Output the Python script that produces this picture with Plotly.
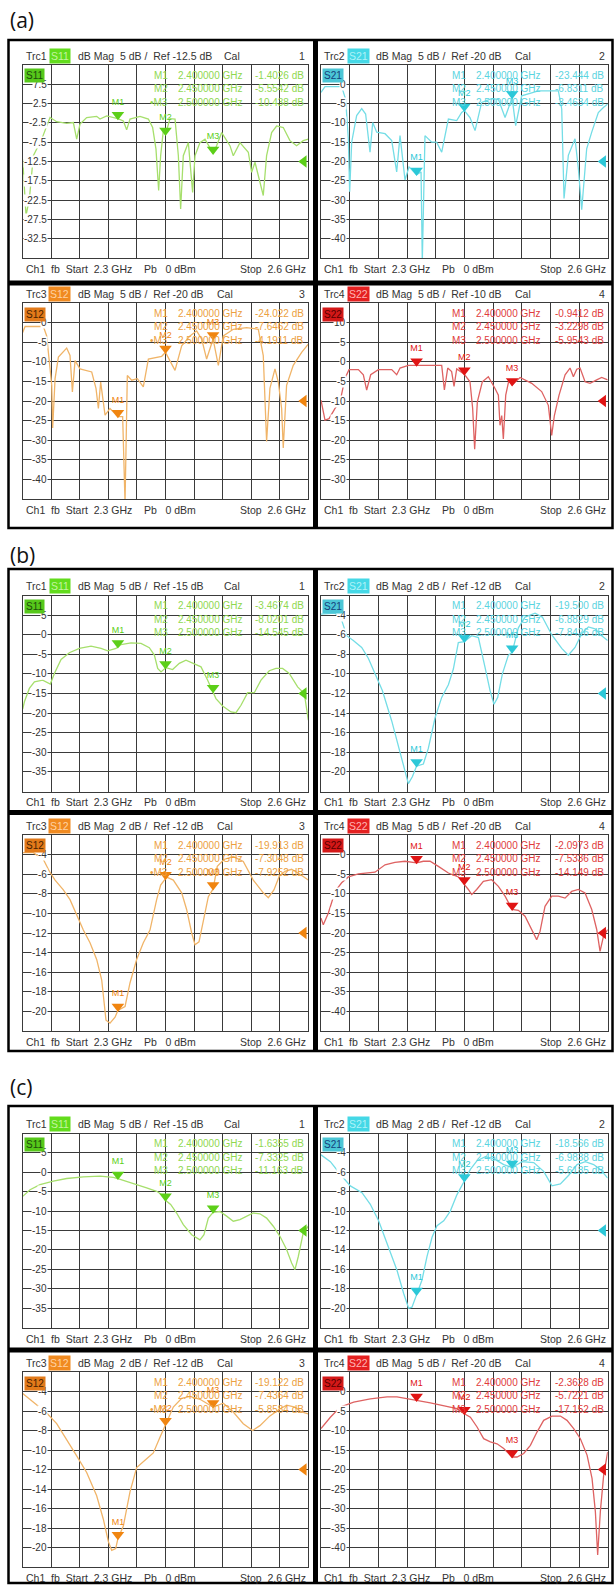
import numpy as np
import plotly.graph_objects as go

W, H = 614, 1585
F_START, F_STOP = 2.3, 2.6
MARKER_F = [2.40, 2.45, 2.50]
MARKER_F_TXT = ['2.400000 GHz', '2.450000 GHz', '2.500000 GHz']

# ---------------- data (frequency GHz, dB) ----------------
a_s11 = [(2.300,-11.9),(2.3014,-18.7),(2.3035,-26.5),(2.307,-22.2),(2.3112,-11.0),(2.320,-6.7),(2.3252,-3.3),
         (2.3287,-1.1),(2.3357,-2.2),(2.3462,-2.6),(2.3532,-2.4),(2.3567,-6.7),(2.3602,-2.8),(2.3672,-1.1),
         (2.3777,-0.8),(2.3812,-1.5),(2.3882,-0.7),(2.400,-1.4),(2.4057,-2.0),(2.4092,-4.3),(2.4127,-1.5),
         (2.4232,-0.8),(2.432,-1.5),(2.4365,-3.7),(2.440,-9.3),(2.4428,-20.0),(2.4449,-11.0),(2.4477,-4.5),
         (2.450,-5.5),(2.4547,-1.4),(2.460,-1.5),(2.4635,-11.0),(2.4659,-24.8),(2.4687,-11.0),(2.474,-7.6),
         (2.4785,-20.5),(2.481,-11.0),(2.4862,-7.6),(2.4915,-6.7),(2.500,-10.4),(2.5037,-8.4),(2.509,-5.0),
         (2.5177,-8.4),(2.5212,-11.0),(2.5282,-7.6),(2.537,-10.1),(2.5405,-15.3),(2.544,-12.7),(2.5527,-21.3),
         (2.5562,-11.0),(2.5615,-5.0),(2.5667,-3.3),(2.5737,-3.7),(2.5807,-7.1),(2.5877,-8.4),(2.5947,-7.1),(2.600,-6.7)]
a_s21 = [(2.300,-2.1),(2.3042,-0.6),(2.3216,-0.6),(2.3258,-3.9),(2.3286,-14.1),(2.330,-27.8),(2.3321,-15.0),
         (2.3373,-8.1),(2.3426,-6.3),(2.3467,-7.7),(2.3513,-17.6),(2.3541,-9.9),(2.3583,-12.4),(2.367,-12.8),
         (2.374,-14.6),(2.3792,-22.7),(2.3827,-13.3),(2.3879,-24.8),(2.3921,-21.4),(2.400,-23.4),(2.4047,-22.7),
         (2.406,-46.0),(2.4088,-13.3),(2.4158,-15.0),(2.421,-15.0),(2.4263,-17.6),(2.4333,-9.0),(2.442,-9.4),
         (2.4472,-7.3),(2.450,-6.8),(2.4559,-8.6),(2.4612,-12.0),(2.4681,-4.7),(2.4786,-3.7),(2.4856,-3.9),
         (2.4926,-8.6),(2.500,-3.5),(2.5037,-10.7),(2.510,-3.0),(2.5274,-1.7),(2.5484,-1.7),(2.5519,-6.4),
         (2.5543,-29.6),(2.5588,-18.4),(2.5658,-14.1),(2.5693,-21.8),(2.5728,-32.5),(2.578,-16.7),(2.5833,-12.4),
         (2.5902,-7.3),(2.5955,-6.0),(2.600,-5.1)]
a_s12 = [(2.300,-2.5),(2.3025,-1.0),(2.3217,-1.0),(2.3252,-3.4),(2.3305,-16.0),(2.3315,-26.9),(2.334,-14.3),
         (2.3375,-8.8),(2.3462,-6.5),(2.3497,-8.4),(2.3522,-17.7),(2.355,-9.7),(2.3602,-11.8),(2.3725,-12.6),
         (2.377,-16.8),(2.3795,-21.9),(2.3819,-15.2),(2.3865,-23.6),(2.3917,-21.9),(2.400,-24.0),(2.405,-24.0),
         (2.4075,-46.0),(2.4099,-13.5),(2.4145,-14.7),(2.4204,-14.3),(2.4267,-16.4),(2.432,-9.3),(2.4407,-8.8),
         (2.446,-8.6),(2.450,-7.6),(2.460,-12.2),(2.467,-5.9),(2.4757,-3.4),(2.4827,-2.1),(2.488,-4.2),
         (2.4932,-9.3),(2.500,-4.2),(2.5055,-10.9),(2.5107,-3.4),(2.5212,-1.7),(2.5352,-1.3),(2.5475,-1.7),
         (2.5527,-8.4),(2.5562,-30.3),(2.5597,-16.8),(2.565,-11.8),(2.5685,-15.2),(2.572,-21.9),(2.5737,-32.0),
         (2.5772,-16.0),(2.5842,-10.9),(2.593,-7.6),(2.600,-5.5)]
a_s22 = [(2.300,-9.8),(2.3042,-14.9),(2.3084,-14.5),(2.3147,-11.9),(2.3199,-10.2),(2.3251,-4.2),(2.3293,-2.0),
         (2.3391,-2.0),(2.3443,-3.3),(2.3478,-7.2),(2.352,-3.3),(2.360,-2.0),(2.374,-2.0),(2.3792,-3.3),
         (2.3827,-1.6),(2.3914,-0.9),(2.400,-0.9),(2.4088,-0.9),(2.4263,-0.9),(2.4291,-7.2),(2.4326,-1.6),
         (2.4367,-2.5),(2.4392,-6.3),(2.442,-1.8),(2.450,-3.2),(2.4559,-5.1),(2.4587,-11.9),(2.4608,-22.3),
         (2.4636,-10.2),(2.4688,-5.1),(2.4751,-3.8),(2.4821,-6.8),(2.4856,-8.5),(2.4873,-16.2),(2.4891,-13.7),
         (2.4908,-19.7),(2.4933,-8.5),(2.4967,-4.6),(2.500,-5.9),(2.5083,-4.0),(2.5205,-5.5),(2.5309,-7.6),
         (2.5379,-11.1),(2.5414,-18.8),(2.5442,-13.7),(2.5491,-8.5),(2.5554,-3.3),(2.5606,-1.6),(2.5641,-3.8),
         (2.5676,-1.9),(2.5711,-1.6),(2.5763,-5.1),(2.5815,-5.5),(2.5885,-4.6),(2.5937,-4.0),(2.600,-4.6)]

b_s11 = [(2.300,-19.0),(2.3018,-17.1),(2.307,-13.7),(2.3123,-12.0),(2.321,-11.6),(2.329,-12.6),(2.3333,-9.9),
         (2.3403,-6.3),(2.349,-4.6),(2.3595,-3.5),(2.3718,-2.9),(2.3823,-3.5),(2.3893,-4.1),(2.398,-3.5),
         (2.4033,-2.5),(2.4138,-2.1),(2.4243,-2.2),(2.433,-3.3),(2.4383,-5.2),(2.4418,-8.6),(2.4453,-9.5),
         (2.4505,-8.4),(2.4575,-8.9),(2.4645,-7.3),(2.4715,-6.5),(2.4785,-7.2),(2.4873,-8.2),(2.4943,-11.6),
         (2.4985,-13.7),(2.503,-16.3),(2.510,-18.2),(2.5188,-19.7),(2.524,-19.9),(2.5293,-18.0),(2.5363,-14.8),
         (2.5433,-14.8),(2.5503,-11.6),(2.559,-9.2),(2.566,-8.6),(2.573,-8.6),(2.580,-9.9),(2.5888,-13.3),
         (2.5958,-15.0),(2.600,-21.8)]
b_s21 = [(2.300,-3.9),(2.3147,-3.8),(2.3216,-4.5),(2.3269,-6.1),(2.3338,-6.6),(2.3426,-7.3),(2.3495,-8.4),
         (2.3565,-9.9),(2.3642,-11.7),(2.374,-14.8),(2.3827,-17.9),(2.3879,-20.0),(2.3914,-21.2),(2.3956,-20.5),
         (2.400,-19.4),(2.4071,-19.2),(2.4123,-17.6),(2.4193,-14.5),(2.4263,-12.4),(2.4333,-11.1),(2.4385,-9.5),
         (2.4437,-6.8),(2.450,-6.7),(2.4577,-6.1),(2.4647,-6.3),(2.4716,-9.3),(2.4769,-11.7),(2.481,-13.1),
         (2.4849,-12.4),(2.4898,-10.0),(2.496,-8.1),(2.500,-7.8),(2.5065,-5.3),(2.5135,-4.2),(2.524,-3.8),
         (2.5316,-4.2),(2.5414,-6.0),(2.5519,-7.4),(2.5588,-8.1),(2.5658,-7.3),(2.5728,-5.9),(2.5798,-5.2),
         (2.5867,-5.4),(2.5937,-6.1),(2.600,-6.6)]
b_s12 = [(2.300,-3.8),(2.3112,-3.8),(2.3217,-4.5),(2.328,-5.7),(2.334,-6.6),(2.3427,-7.6),(2.3497,-8.6),
         (2.3574,-10.3),(2.3637,-11.7),(2.3707,-13.0),(2.3777,-14.7),(2.383,-16.8),(2.3875,-20.9),(2.3917,-21.2),
         (2.397,-20.6),(2.400,-19.9),(2.4075,-19.5),(2.4127,-17.1),(2.4197,-14.7),(2.4267,-13.0),(2.4337,-11.7),
         (2.4407,-8.6),(2.4449,-7.1),(2.4512,-6.3),(2.4582,-6.6),(2.467,-7.9),(2.4722,-9.6),(2.4775,-12.0),
         (2.481,-13.2),(2.4852,-12.9),(2.4904,-10.3),(2.495,-8.3),(2.500,-7.5),(2.5044,-5.2),(2.5114,-4.5),
         (2.5212,-4.2),(2.5317,-4.7),(2.5422,-6.6),(2.5527,-7.9),(2.558,-8.4),(2.5639,-7.6),(2.5695,-6.2),
         (2.5755,-5.7),(2.5825,-5.5),(2.5912,-6.0),(2.600,-6.6)]
b_s22 = [(2.300,-16.2),(2.3024,-17.9),(2.3077,-14.9),(2.3147,-9.4),(2.3216,-7.2),(2.3286,-5.7),(2.3391,-4.9),
         (2.3495,-4.7),(2.3565,-4.5),(2.367,-2.6),(2.3774,-2.0),(2.3879,-1.7),(2.400,-2.1),(2.4071,-1.7),
         (2.4141,-1.7),(2.4228,-3.0),(2.4333,-4.7),(2.4437,-5.7),(2.450,-7.5),(2.4542,-8.9),(2.4577,-10.2),
         (2.4629,-8.9),(2.4699,-6.8),(2.4786,-6.4),(2.4856,-8.1),(2.4926,-10.6),(2.500,-14.0),(2.5065,-14.2),
         (2.5135,-15.7),(2.5205,-19.1),(2.5257,-21.7),(2.5292,-19.6),(2.5344,-13.2),(2.5414,-10.6),(2.5484,-10.6),
         (2.5554,-11.1),(2.5623,-9.4),(2.5693,-8.9),(2.5763,-9.8),(2.5833,-14.0),(2.5885,-19.1),(2.592,-24.7),
         (2.5955,-20.9),(2.600,-19.1)]

c_s11 = [(2.300,-6.2),(2.3077,-4.5),(2.3182,-3.2),(2.3322,-2.3),(2.3462,-1.6),(2.3637,-1.2),(2.3812,-1.0),
         (2.3952,-1.3),(2.400,-1.6),(2.4092,-2.3),(2.4197,-3.2),(2.4302,-4.0),(2.4407,-4.9),(2.4477,-6.0),
         (2.450,-7.2),(2.4554,-8.3),(2.4617,-10.5),(2.4687,-13.5),(2.4775,-16.1),(2.4862,-17.4),(2.4904,-16.1),
         (2.495,-11.8),(2.500,-10.3),(2.5072,-10.1),(2.5142,-11.3),(2.5212,-12.6),(2.5282,-12.2),(2.5352,-11.3),
         (2.5422,-10.5),(2.5492,-10.7),(2.5562,-11.8),(2.5632,-13.9),(2.5702,-16.5),(2.5772,-19.9),(2.5825,-23.4),
         (2.586,-25.1),(2.5895,-21.7),(2.5947,-15.6),(2.600,-13.9)]
c_s21 = [(2.300,-4.2),(2.3098,-4.9),(2.3202,-6.2),(2.3307,-7.4),(2.3429,-8.1),(2.3516,-9.3),(2.3603,-11.0),
         (2.3691,-13.4),(2.3795,-16.1),(2.3865,-18.5),(2.3917,-20.0),(2.3952,-19.9),(2.400,-18.6),(2.4057,-17.1),
         (2.4109,-14.7),(2.4162,-12.7),(2.4214,-11.5),(2.4284,-11.0),(2.4353,-10.0),(2.4423,-8.3),(2.450,-6.9),
         (2.4563,-5.7),(2.4633,-4.8),(2.472,-4.4),(2.4807,-4.6),(2.4912,-5.2),(2.500,-5.5),(2.5103,-4.9),
         (2.5226,-5.0),(2.533,-5.9),(2.5417,-7.4),(2.5505,-7.2),(2.5592,-6.3),(2.5679,-5.2),(2.5766,-4.9),
         (2.5853,-5.2),(2.5923,-5.7),(2.600,-6.6)]
c_s12 = [(2.300,-4.2),(2.3112,-5.1),(2.3252,-6.2),(2.3357,-7.3),(2.3462,-8.9),(2.3567,-10.6),(2.3672,-12.3),
         (2.3777,-14.7),(2.3847,-17.1),(2.390,-19.4),(2.3935,-20.3),(2.3977,-20.1),(2.400,-19.1),(2.4057,-17.8),
         (2.4127,-14.3),(2.4197,-11.8),(2.4302,-10.9),(2.4372,-10.3),(2.4442,-8.7),(2.450,-7.4),(2.4582,-5.6),
         (2.467,-4.7),(2.4757,-4.5),(2.4862,-4.8),(2.500,-5.6),(2.5107,-5.2),(2.5212,-6.1),(2.5317,-7.3),
         (2.5415,-8.0),(2.5492,-7.5),(2.5597,-6.5),(2.5702,-5.8),(2.5772,-5.4),(2.586,-5.6),(2.593,-6.1),(2.600,-6.3)]
c_s22 = [(2.300,-9.5),(2.3098,-6.6),(2.3202,-4.0),(2.3342,-2.7),(2.3516,-1.9),(2.3691,-1.4),(2.3795,-1.4),
         (2.3935,-1.9),(2.400,-2.3),(2.4144,-2.9),(2.4284,-3.6),(2.4423,-4.4),(2.450,-5.7),(2.4563,-6.6),
         (2.4633,-9.1),(2.4702,-12.1),(2.4772,-12.9),(2.4842,-13.4),(2.4912,-14.6),(2.500,-16.8),(2.5051,-16.8),
         (2.5121,-15.9),(2.5191,-13.8),(2.526,-10.4),(2.533,-7.4),(2.5417,-6.3),(2.5505,-6.3),(2.5574,-7.4),
         (2.5644,-9.5),(2.5714,-12.1),(2.5784,-16.3),(2.5836,-22.3),(2.5871,-30.8),(2.5895,-41.9),(2.5923,-30.8),
         (2.5958,-21.4),(2.600,-15.5)]

# marker readouts
a_s11_mk = ['-1.4026 dB', '-5.5542 dB', '-10.438 dB']
a_s21_mk = ['-23.444 dB', '-6.8311 dB', '-3.4634 dB']
a_s12_mk = ['-24.022 dB', '-7.6462 dB', '-4.1911 dB']
a_s22_mk = ['-0.9412 dB', '-3.2298 dB', '-5.9543 dB']
b_s11_mk = ['-3.4674 dB', '-8.0201 dB', '-14.545 dB']
b_s21_mk = ['-19.500 dB', '-6.8829 dB', '-7.8426 dB']
b_s12_mk = ['-19.913 dB', '-7.3048 dB', '-7.9252 dB']
b_s22_mk = ['-2.0973 dB', '-7.5336 dB', '-14.149 dB']
c_s11_mk = ['-1.6355 dB', '-7.3325 dB', '-11.163 dB']
c_s21_mk = ['-18.566 dB', '-6.9838 dB', '-5.6185 dB']
c_s12_mk = ['-19.122 dB', '-7.4364 dB', '-5.8584 dB']
c_s22_mk = ['-2.3628 dB', '-5.7221 dB', '-17.152 dB']

# (ref level dB, dB per division)
a_scale = {'S11': (-12.5, 5), 'S21': (-20, 5), 'S12': (-20, 5), 'S22': (-10, 5)}
b_scale = {'S11': (-15, 5), 'S21': (-12, 2), 'S12': (-12, 2), 'S22': (-20, 5)}
c_scale = {'S11': (-15, 5), 'S21': (-12, 2), 'S12': (-12, 2), 'S22': (-20, 5)}

DATA = {
    'a': {'S11': (a_s11, a_s11_mk), 'S21': (a_s21, a_s21_mk), 'S12': (a_s12, a_s12_mk), 'S22': (a_s22, a_s22_mk)},
    'b': {'S11': (b_s11, b_s11_mk), 'S21': (b_s21, b_s21_mk), 'S12': (b_s12, b_s12_mk), 'S22': (b_s22, b_s22_mk)},
    'c': {'S11': (c_s11, c_s11_mk), 'S21': (c_s21, c_s21_mk), 'S12': (c_s12, c_s12_mk), 'S22': (c_s22, c_s22_mk)},
}
SCALES = {'a': a_scale, 'b': b_scale, 'c': c_scale}
BULLET = {('a', 'S11'), ('a', 'S12'), ('b', 'S12'), ('c', 'S12')}

# ---------------- style / geometry ----------------
FONT = 'Liberation Sans'
STYLE = {
    'S11': dict(trc='Trc1', num='1', pos=(0, 0), line='#a6df6c', mk='#5ccf18', txt='#8fd850',
                hdr='#62dc1c', hdr_txt='#c4f4a0', tag='#56c81a', tag_txt='#1d4d0a'),
    'S21': dict(trc='Trc2', num='2', pos=(0, 1), line='#74dde6', mk='#2cc8d8', txt='#5ad4e0',
                hdr='#44d8e6', hdr_txt='#b0f2f8', tag='#4cc6d6', tag_txt='#15417c'),
    'S12': dict(trc='Trc3', num='3', pos=(1, 0), line='#f0b468', mk='#f08510', txt='#eca040',
                hdr='#f08a20', hdr_txt='#ffd2a4', tag='#e27a1a', tag_txt='#4a2200'),
    'S22': dict(trc='Trc4', num='4', pos=(1, 1), line='#de6262', mk='#e01414', txt='#e03c3c',
                hdr='#e42020', hdr_txt='#ffb4b4', tag='#d41818', tag_txt='#5a0000'),
}
GRID_X = [(22.7, 308.3), (321.0, 607.7)]
PANELS = {
    'a': dict(label_y=20, frame=(40, 528), hbar=283, grid_y=[(65, 258), (303, 499)]),
    'b': dict(label_y=555, frame=(569, 1051), hbar=812.5, grid_y=[(595.5, 791.5), (835, 1031)]),
    'c': dict(label_y=1087, frame=(1106, 1583), hbar=1350, grid_y=[(1133.5, 1327.5), (1372, 1567)]),
}
GRID_COLOR = '#3a3a3a'


def fmt(v):
    if abs(v - round(v)) < 1e-9:
        return str(int(round(v)))
    return f'{v:.1f}'


fig = go.Figure()
layout = dict(width=W, height=H, margin=dict(l=0, r=0, t=0, b=0), paper_bgcolor='white',
              plot_bgcolor='white', showlegend=False)
annotations = []
shapes = []


def ann(text, px, py, size=10.5, color='#333333', xanchor='left', bg=None, pad=1, family=FONT):
    d = dict(text=text, x=px / W, y=1 - py / H, xref='paper', yref='paper', showarrow=False,
             xanchor=xanchor, yanchor='middle', font=dict(size=size, color=color, family=family),
             borderpad=pad)
    if bg:
        d['bgcolor'] = bg
    annotations.append(d)


NB = '\u00a0'
k = 0
for pl in ['a', 'b', 'c']:
    P = PANELS[pl]
    # panel label
    ann(f'({pl})', 8, P['label_y'], size=21, color='#111111', family='Open Sans')
    fy0, fy1 = P['frame']
    shapes.append(dict(type='rect', xref='paper', yref='paper', x0=8.5 / W, x1=612.5 / W,
                       y0=1 - fy1 / H, y1=1 - fy0 / H, line=dict(color='black', width=2.5)))
    shapes.append(dict(type='rect', xref='paper', yref='paper', x0=8.5 / W, x1=612.5 / W,
                       y0=1 - (P['hbar'] + 2.6) / H, y1=1 - (P['hbar'] - 2.6) / H,
                       fillcolor='black', line=dict(width=0)))
    shapes.append(dict(type='rect', xref='paper', yref='paper', x0=313 / W, x1=318 / W,
                       y0=1 - fy1 / H, y1=1 - fy0 / H, fillcolor='black', line=dict(width=0)))
    for sp in ['S11', 'S21', 'S12', 'S22']:
        k += 1
        st = STYLE[sp]
        r, c = st['pos']
        gx0, gx1 = GRID_X[c]
        gy0, gy1 = P['grid_y'][r]
        ref, div = SCALES[pl][sp]
        data, mk_txt = DATA[pl][sp]
        xa = 'xaxis' if k == 1 else f'xaxis{k}'
        ya = 'yaxis' if k == 1 else f'yaxis{k}'
        xr = 'x' if k == 1 else f'x{k}'
        yr = 'y' if k == 1 else f'y{k}'
        common = dict(showgrid=True, gridcolor=GRID_COLOR, gridwidth=1, showline=True,
                      linecolor=GRID_COLOR, linewidth=1.3, mirror=True, showticklabels=False,
                      ticks='', zeroline=False, fixedrange=True)
        layout[xa] = dict(domain=[gx0 / W, gx1 / W], range=[F_START, F_STOP], tick0=F_START,
                          dtick=(F_STOP - F_START) / 10, anchor=yr, **common)
        layout[ya] = dict(domain=[1 - gy1 / H, 1 - gy0 / H], range=[ref - 5 * div, ref + 5 * div],
                          tick0=ref, dtick=div, anchor=xr, **common)

        f = np.array([p[0] for p in data])
        db = np.array([p[1] for p in data])
        fig.add_trace(go.Scatter(x=f, y=db, mode='lines', xaxis=xr, yaxis=yr,
                                 line=dict(color=st['line'], width=1.3), hoverinfo='skip'))
        # markers
        px_per_div = (gy1 - gy0) / 10
        off = 4.0 * div / px_per_div
        ym = np.interp(MARKER_F, f, db) + off
        fig.add_trace(go.Scatter(x=MARKER_F, y=ym, mode='markers+text', xaxis=xr, yaxis=yr,
                                 marker=dict(symbol='triangle-down', size=11, color=st['mk']),
                                 text=['M1', 'M2', 'M3'], textposition='top center',
                                 textfont=dict(size=9, color=st['mk'], family=FONT),
                                 cliponaxis=False, hoverinfo='skip'))
        # reference level triangle
        fx_off = 4.5 * (F_STOP - F_START) / (gx1 - gx0)
        fig.add_trace(go.Scatter(x=[F_STOP - fx_off], y=[ref], mode='markers', xaxis=xr, yaxis=yr,
                                 marker=dict(symbol='triangle-left', size=11, color=st['mk']),
                                 cliponaxis=False, hoverinfo='skip'))
        # y labels
        for i in range(1, 10):
            v = ref + 5 * div - i * div
            annotations.append(dict(text=fmt(v), x=F_START + (F_STOP - F_START) / 10, y=v,
                                    xref=xr, yref=yr, showarrow=False, xanchor='right',
                                    yanchor='middle', xshift=-3, bgcolor='white', borderpad=0,
                                    font=dict(size=10, color='#333333', family=FONT)))
        # header
        hy = gy0 - 9.5
        ann(st['trc'], gx0 + 1, hy)
        ann(sp, gx0 + 37, hy, color=st['hdr_txt'], xanchor='center', bg=st['hdr'], pad=1)
        ann(f'dB Mag{NB}{NB}{div} dB /{NB}{NB}Ref {fmt(ref)} dB', gx0 + 53, hy)
        ann('Cal', gx0 + 199 if sp == 'S11' else gx0 + 192, hy)
        ann(st['num'], gx1 - 1, hy, xanchor='right')
        # footer
        fyy = gy1 + 11
        ann(f'Ch1{NB}{NB}fb{NB}{NB}Start{NB}{NB}2.3 GHz{NB}{NB}{NB}{NB}Pb{NB}{NB}{NB}0 dBm', gx0 + 1, fyy)
        ann(f'Stop{NB}{NB}2.6 GHz', gx1, fyy, xanchor='right')
        # trace tag inside grid
        ann(sp, gx0 + 12, gy0 + 11, size=10, color=st['tag_txt'], xanchor='center', bg=st['tag'], pad=1)
        # marker readouts
        for i in range(3):
            ry = gy0 + 10 + 13.5 * i
            lab = ('\u2022' if (pl, sp) in BULLET and i == 2 else '') + f'M{i + 1}'
            ann(lab, gx0 + 147, ry, size=10, color=st['txt'], xanchor='right')
            ann(MARKER_F_TXT[i], gx0 + 153, ry, size=10, color=st['txt'])
            ann(mk_txt[i], gx1 - 2, ry, size=10, color=st['txt'], xanchor='right')

layout['annotations'] = annotations
layout['shapes'] = shapes
fig.update_layout(**layout)
fig.write_html('out.html', config={'displayModeBar': False},
               post_script="document.body.style.margin='0';document.body.style.padding='0';"
                           "document.body.style.overflow='hidden';"
                           "document.documentElement.style.overflow='hidden';")
